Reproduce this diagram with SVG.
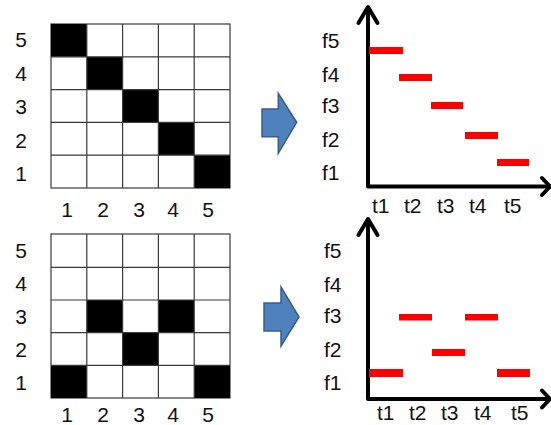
<svg xmlns="http://www.w3.org/2000/svg" width="551" height="425" viewBox="0 0 551 425">
<style>
text{font-family:"Liberation Sans",Arial,sans-serif;font-size:21px;fill:#111}
.c{text-anchor:middle}
.g{fill:#fff;stroke:#3a3a3a;stroke-width:1.2}
.b{fill:#000}
.ax{fill:none;stroke:#000;stroke-width:4;stroke-linecap:round;stroke-linejoin:round}
.r{fill:#ff0000}
.arr{fill:#4f81bd;stroke:#385d8a;stroke-width:1.5;stroke-linejoin:miter}
</style>
<rect width="551" height="425" fill="#fff"/>
<g id="grid1">
<rect class="g" x="51" y="24" width="179" height="164"/>
<rect class="b" x="51" y="24" width="35.8" height="32.8"/>
<rect class="b" x="86.8" y="56.8" width="35.8" height="32.8"/>
<rect class="b" x="122.6" y="89.6" width="35.8" height="32.8"/>
<rect class="b" x="158.4" y="122.4" width="35.8" height="32.8"/>
<rect class="b" x="194.2" y="155.2" width="35.8" height="32.8"/>
<path d="M86.8 24V188M122.6 24V188M158.4 24V188M194.2 24V188M51 56.8H230M51 89.6H230M51 122.4H230M51 155.2H230" stroke="#3a3a3a" stroke-width="1.2"/>
<text class="c" x="21" y="47">5</text>
<text class="c" x="21" y="80.5">4</text>
<text class="c" x="21" y="114">3</text>
<text class="c" x="21" y="147.5">2</text>
<text class="c" x="21" y="181">1</text>
<text class="c" x="67" y="217">1</text>
<text class="c" x="103" y="217">2</text>
<text class="c" x="139" y="217">3</text>
<text class="c" x="173" y="217">4</text>
<text class="c" x="208" y="217">5</text>
</g>
<g id="grid2">
<rect class="g" x="51" y="234" width="179" height="164"/>
<rect class="b" x="86.8" y="300" width="35.8" height="32.7"/>
<rect class="b" x="158.4" y="300" width="35.8" height="32.7"/>
<rect class="b" x="122.6" y="332.7" width="35.8" height="32.6"/>
<rect class="b" x="51" y="365.3" width="35.8" height="32.7"/>
<rect class="b" x="194.2" y="365.3" width="35.8" height="32.7"/>
<path d="M86.8 234V398M122.6 234V398M158.4 234V398M194.2 234V398M51 267.3H230M51 300H230M51 332.7H230M51 365.3H230" stroke="#3a3a3a" stroke-width="1.2"/>
<text class="c" x="21" y="258">5</text>
<text class="c" x="21" y="291">4</text>
<text class="c" x="21" y="323.5">3</text>
<text class="c" x="21" y="357">2</text>
<text class="c" x="21" y="390">1</text>
<text class="c" x="67" y="422">1</text>
<text class="c" x="103" y="422">2</text>
<text class="c" x="139" y="422">3</text>
<text class="c" x="173" y="422">4</text>
<text class="c" x="208" y="422">5</text>
</g>
<g id="connectors">
<path id="arrow1" class="arr" d="M262 109H278.3V93.3L296.7 122.3L278.3 153.3V136.7H262Z"/>
<path id="arrow2" class="arr" d="M264 303H281V287L299 317L281 346V331H264Z"/>
</g>
<g id="chart1">
<path class="ax" d="M368 8V186.5H551"/>
<path class="ax" d="M358.5 23L368 7L377.5 23"/>
<path class="ax" d="M542 178L550 186.5L542 195"/>
<rect class="r" x="369" y="47" width="34" height="7"/>
<rect class="r" x="399" y="74" width="33" height="7"/>
<rect class="r" x="431" y="102" width="32" height="7"/>
<rect class="r" x="465" y="132" width="33" height="7"/>
<rect class="r" x="497" y="159" width="32" height="7"/>
<text x="322" y="48">f5</text>
<text x="322" y="82">f4</text>
<text x="322" y="113">f3</text>
<text x="322" y="147">f2</text>
<text x="322" y="180">f1</text>
<text x="372" y="213">t1</text>
<text x="404" y="213">t2</text>
<text x="437" y="213">t3</text>
<text x="469" y="213">t4</text>
<text x="504" y="213">t5</text>
</g>
<g id="chart2">
<path class="ax" d="M368 220V399H551"/>
<path class="ax" d="M358.5 235L368 219L377.5 235"/>
<path class="ax" d="M542 390.5L550 399L542 407.5"/>
<rect class="r" x="399" y="314" width="33" height="6.5"/>
<rect class="r" x="465" y="314" width="33" height="6.5"/>
<rect class="r" x="432" y="349" width="33" height="7"/>
<rect class="r" x="369" y="369" width="34" height="8"/>
<rect class="r" x="497" y="369" width="33" height="8"/>
<text x="324" y="258">f5</text>
<text x="324" y="292">f4</text>
<text x="324" y="323">f3</text>
<text x="324" y="357">f2</text>
<text x="324" y="390">f1</text>
<text x="377" y="420">t1</text>
<text x="409" y="420">t2</text>
<text x="441" y="420">t3</text>
<text x="474" y="420">t4</text>
<text x="511" y="420">t5</text>
</g>
</svg>
